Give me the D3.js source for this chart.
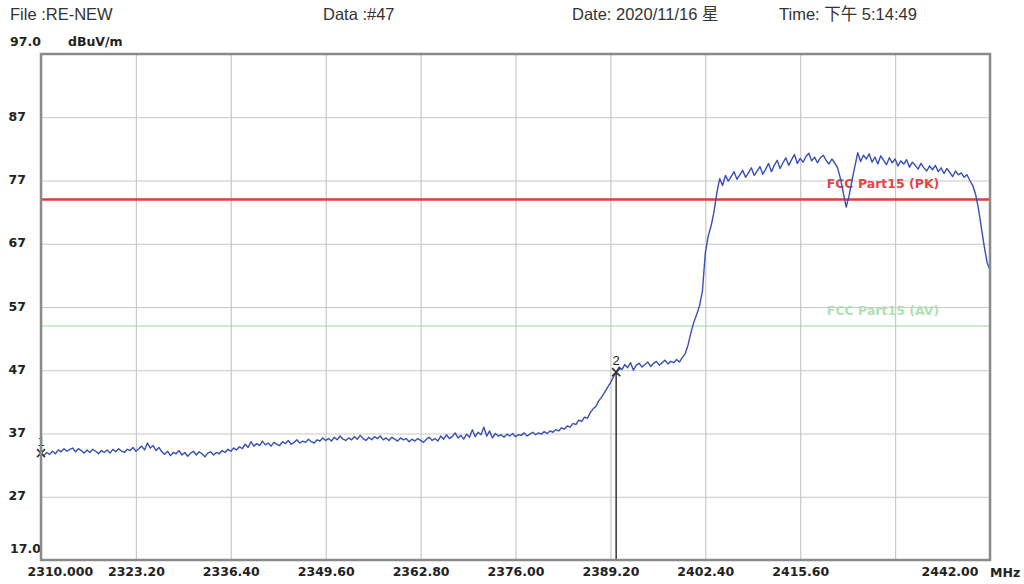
<!DOCTYPE html>
<html>
<head>
<meta charset="utf-8">
<script src="https://cdn.jsdelivr.net/npm/d3@7"></script>
<style>
  html, body { margin: 0; padding: 0; background: #fff; }
  svg { display: block; }
  .hdr { font-family: "Liberation Sans", Arial, "Noto Sans CJK SC", sans-serif; font-size: 16.5px; fill: #333; }
  .tick text, .ax { font-family: "DejaVu Sans", sans-serif; font-size: 12.5px; font-weight: bold; fill: #222; }
</style>
</head>
<body>
<svg id="chart" width="1024" height="584"></svg>
<script>
// Sweep range (MHz) and level range (dBuV/m)
const freqStart = 2310.0;
const freqStep = 0.4;
const freqMin = 2310.0, freqMax = 2442.0;
const levelMin = 17.0, levelMax = 97.0;

// Measured trace, one value every 0.4 MHz from 2310.0 MHz
const traceLevels = [
  33.9, 33.5, 34.0, 33.7, 34.2, 33.8, 34.4, 34.1, 34.6, 34.2,
  34.5, 34.7, 34.1, 34.6, 34.3, 33.9, 34.4, 34.0, 34.5, 34.2,
  33.8, 34.3, 34.0, 34.4, 33.9, 34.5, 34.1, 34.6, 34.2, 34.0,
  34.5, 34.3, 34.8, 34.2, 34.6, 35.0, 34.4, 35.5, 34.7, 35.1,
  34.3, 34.8, 34.1, 33.7, 34.2, 33.5, 34.0, 33.8, 34.3, 33.6,
  34.0, 33.4, 33.9, 34.2, 33.6, 34.1, 33.8, 33.3, 33.9, 34.1,
  33.6, 34.0, 33.8, 34.3, 34.0, 34.5, 34.2, 34.7, 34.4, 34.9,
  34.6, 35.3, 34.8, 35.7, 35.0, 35.4, 35.1, 35.8, 35.2, 35.5,
  35.0, 35.6, 35.3, 35.1, 35.7, 35.4, 35.9, 35.3, 35.6, 36.0,
  35.5, 35.8, 35.6, 36.1, 35.7, 35.5, 36.0, 35.8, 36.3, 35.9,
  36.2, 35.8, 36.4, 36.0, 36.6, 36.1, 35.9, 36.3, 36.0, 36.5,
  36.1, 36.7, 36.2, 35.9, 36.4, 36.0, 36.5, 36.2, 36.6, 36.0,
  36.3, 35.9, 36.4, 36.1, 35.8, 36.3, 36.0, 36.2, 35.7, 36.1,
  35.8, 36.2, 35.9, 35.6, 36.1, 36.4, 35.9, 36.2, 35.8, 36.6,
  36.1, 36.8, 36.2, 36.5, 37.1, 36.3, 36.7, 36.1, 36.9, 36.4,
  37.6, 36.5, 37.2, 36.8, 38.0, 36.6, 37.4, 36.3, 37.0, 36.6,
  36.8, 36.4, 36.9, 36.6, 37.0, 36.5, 36.8, 36.7, 37.1, 36.6,
  36.9, 37.2, 36.8, 37.1, 36.9, 37.3, 37.0, 37.4, 37.2, 37.6,
  37.4, 37.9, 37.7, 38.2, 38.0, 38.6, 38.4, 39.1, 38.9, 39.6,
  39.4, 40.3, 40.9, 41.3, 42.2, 42.8, 43.5, 44.3, 45.0, 45.9,
  46.7, 47.5, 47.1, 47.9, 47.4, 48.2, 47.0, 47.8, 48.1, 47.5,
  47.9, 48.3, 47.6, 48.1, 48.4, 47.8, 48.2, 48.6, 48.0, 48.4,
  48.2, 48.7, 48.3, 49.0, 49.6, 51.0, 52.9, 54.6, 55.8, 57.2,
  59.5, 65.5, 68.2, 69.8, 72.0, 75.0, 77.3, 76.2, 77.8, 76.9,
  77.6, 78.4, 77.2, 77.9, 78.6, 77.5, 78.2, 79.0, 77.8, 78.5,
  79.2, 78.0, 78.8, 79.7, 78.4, 79.4, 80.2, 78.9, 79.8, 80.6,
  79.4, 80.3, 81.1, 79.7, 80.5, 79.9, 80.8, 81.3, 80.1, 80.7,
  79.8, 80.6, 81.0, 80.2, 79.6, 80.4, 79.8, 79.0, 77.3, 75.0,
  72.8, 74.6, 77.0, 79.2, 81.4, 80.0, 81.0, 80.4, 81.2, 79.9,
  80.7, 79.6, 80.9, 80.2, 79.5, 80.6, 79.8, 80.4, 79.3, 80.1,
  79.6, 80.3, 79.1, 79.9, 79.4, 78.8, 79.7, 79.0, 78.5, 79.3,
  78.7, 79.4, 78.4, 79.0, 78.1, 78.9, 78.3, 77.6, 78.5, 77.9,
  78.2, 77.5, 77.9, 77.0, 76.2, 74.8, 72.5, 69.5, 66.6, 64.0,
  62.8
];

// Limit lines
const limitNames = ["FCC Part15 (PK)", "FCC Part15 (AV)"];
const limitLevels = [74, 54];
const limitColors = ["#e23a3a", "#9ad99a"];
const limitTextColors = ["#e04848", "#b2e0b2"];

// Markers
const markerIds = ["1", "2"];
const markerFreqs = [2310.0, 2390.0];
const markerLevels = [33.9, 46.7];

// Axis ticks
const freqGrid = [2310.0, 2323.2, 2336.4, 2349.6, 2362.8, 2376.0, 2389.2, 2402.4, 2415.6, 2428.8, 2442.0];
const freqLabels = ["2310.000", "2323.20", "2336.40", "2349.60", "2362.80", "2376.00", "2389.20", "2402.40", "2415.60", "", "2442.00"];
const levelGrid = [97, 87, 77, 67, 57, 47, 37, 27, 17];
const levelLabels = ["", "87", "77", "67", "57", "47", "37", "27", "17.0"];

// Header texts
const headerTexts = ["File :RE-NEW", "Data :#47", "Date: 2020/11/16 星", "Time: 下午 5:14:49"];
const headerX = [10, 323, 572, 779];

const svg = d3.select("#chart");
const plot = { left: 41, right: 990, top: 54, bottom: 560 };

const x = d3.scaleLinear().domain([freqMin, freqMax]).range([plot.left, plot.right]);
const y = d3.scaleLinear().domain([levelMin, levelMax]).range([plot.bottom, plot.top]);

// Header
svg.selectAll("text.hdr").data(headerTexts).join("text")
  .attr("class", "hdr")
  .attr("x", (d, i) => headerX[i]).attr("y", 20)
  .text(d => d);

svg.append("text").attr("class", "ax").attr("x", 10).attr("y", 46).text("97.0");
svg.append("text").attr("class", "ax").attr("x", 68).attr("y", 46).text("dBuV/m");

// Grid
const gx = svg.append("g").attr("transform", `translate(0,${plot.bottom})`)
  .call(d3.axisBottom(x).tickValues(freqGrid)
    .tickSize(-(plot.bottom - plot.top)).tickPadding(7)
    .tickFormat((d, i) => freqLabels[i]));
gx.select(".domain").remove();
gx.selectAll(".tick line").attr("stroke", "#c8c8c8").attr("stroke-width", 1.2);
gx.selectAll(".tick text").attr("dy", "0.72em");
gx.selectAll(".tick text").filter((d, i) => i === 0).attr("text-anchor", "start").attr("dx", -14);
gx.selectAll(".tick text").filter((d, i) => i === freqGrid.length - 1).attr("text-anchor", "end").attr("dx", -12);

const gy = svg.append("g").attr("transform", `translate(${plot.left},0)`)
  .call(d3.axisLeft(y).tickValues(levelGrid)
    .tickSize(-(plot.right - plot.left)).tickPadding(15)
    .tickFormat((d, i) => levelLabels[i]));
gy.select(".domain").remove();
gy.selectAll(".tick line").attr("stroke", "#c8c8c8").attr("stroke-width", 1.2);
gy.selectAll(".tick text").attr("dy", "0.25em");
// bottom level label sits left-aligned, lifted above the frequency labels
gy.selectAll(".tick text").filter(d => d === 17)
  .attr("text-anchor", "start").attr("x", -31).attr("dy", "-0.6em");

svg.append("text").attr("class", "ax").attr("x", 990).attr("y", 577).text("MHz");

// Limit lines and labels
limitLevels.forEach((lv, i) => {
  svg.append("line")
    .attr("x1", plot.left).attr("x2", plot.right)
    .attr("y1", y(lv)).attr("y2", y(lv))
    .attr("stroke", limitColors[i]).attr("stroke-width", i === 0 ? 2.5 : 1.2);
  svg.append("text").attr("class", "ax")
    .attr("x", 883).attr("y", y(lv) - 11)
    .attr("text-anchor", "middle")
    .style("fill", limitTextColors[i])
    .text(limitNames[i]);
});

// Trace
const trace = traceLevels.map((v, i) => [freqStart + i * freqStep, v]);
svg.append("path").datum(trace)
  .attr("fill", "none").attr("stroke", "#3850b4").attr("stroke-width", 1.4)
  .attr("stroke-linejoin", "round")
  .attr("d", d3.line().x(d => x(d[0])).y(d => y(d[1])));

// Markers
markerFreqs.forEach((f, i) => {
  const mx = x(f), my = y(markerLevels[i]);
  svg.append("line").attr("x1", mx).attr("x2", mx).attr("y1", my).attr("y2", plot.bottom)
    .attr("stroke", "#333").attr("stroke-width", 1.5);
  svg.append("path")
    .attr("d", `M${mx - 4},${my - 4}L${mx + 4},${my + 4}M${mx - 4},${my + 4}L${mx + 4},${my - 4}`)
    .attr("stroke", "#333").attr("stroke-width", 1.6);
  svg.append("text").attr("x", mx).attr("y", my - 7)
    .attr("text-anchor", "middle")
    .style("font-family", "Liberation Sans, Arial, sans-serif").style("font-size", "13px").style("fill", "#222")
    .text(markerIds[i]);
});

// Plot frame
svg.append("rect")
  .attr("x", plot.left).attr("y", plot.top)
  .attr("width", plot.right - plot.left).attr("height", plot.bottom - plot.top)
  .attr("fill", "none").attr("stroke", "#8a8a8a").attr("stroke-width", 2.5);
</script>
</body>
</html>
